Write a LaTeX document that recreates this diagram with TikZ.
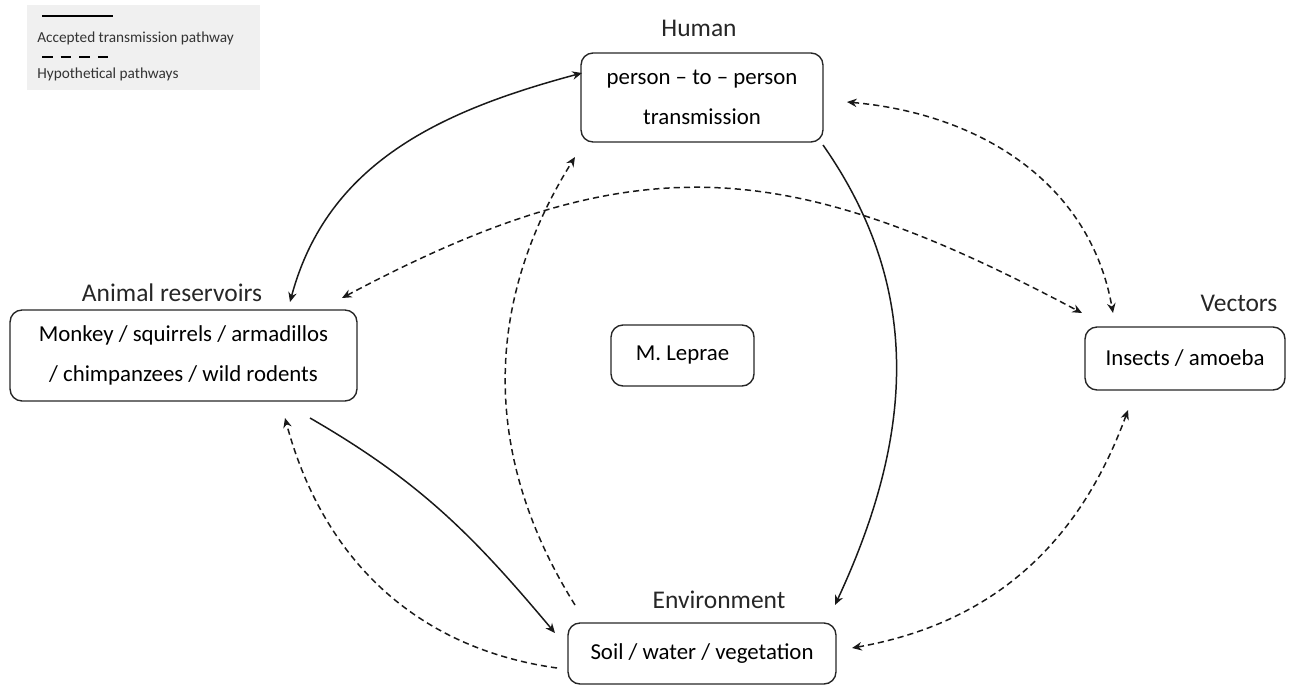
\documentclass[tikz,border=0pt]{standalone}
\usepackage{fontspec}
\setmainfont{Carlito}
\usepackage{tikz}
\usetikzlibrary{positioning, arrows.meta}

\begin{document}
\begin{tikzpicture}[
    x=0.02cm, y=0.02cm,
    >={Stealth[length=5.5pt,width=4.8pt]},
    box/.style={
        draw=black!85,
        line width=0.8pt,
        rounded corners=0.24cm,
        align=center,
        font=\fontsize{13}{23}\selectfont
    },
    title/.style={font=\fontsize{14.5}{17}\selectfont, text=black!85},
    legtext/.style={anchor=west, font=\fontsize{8.7}{10}\selectfont, text=black!80, inner sep=0pt},
    sure/.style={line width=0.85pt, black!90},
    maybe/.style={line width=0.85pt, black!90, dash pattern=on 3.5pt off 2.3pt}
]
\useasboundingbox (0,0) rectangle (1295,684);

% ======================
% Legend
% ======================
\fill[black!6] (27,594) rectangle (260,679);
\coordinate (leg_s1) at (42,668);
\coordinate (leg_s2) at (113,668);
\coordinate (leg_d1) at (42,627);
\coordinate (leg_d2) at (113,627);
\draw[line width=1.2pt] (leg_s1) -- (leg_s2);
\draw[line width=1.2pt, dash pattern=on 6pt off 4.6pt] (leg_d1) -- (leg_d2);
\node[legtext] (leg_acc) at (37,646) {Accepted transmission pathway};
\node[legtext] (leg_hyp) at (37,610) {Hypothetical pathways};

% ======================
% Boxes
% ======================
\node[box, minimum width=4.84cm, minimum height=1.78cm] (hum) at (702,586.5) {person -- to -- person\\transmission};
\node[box, minimum width=6.94cm, minimum height=1.82cm] (anim) at (183.5,328.5) {Monkey / squirrels / armadillos\\/ chimpanzees / wild rodents};
\node[box, minimum width=2.86cm, minimum height=1.22cm] (lep) at (682.5,328.5) {M. Leprae};
\node[box, minimum width=4.0cm, minimum height=1.26cm] (vec) at (1185,325.5) {Insects / amoeba};
\node[box, minimum width=5.36cm, minimum height=1.22cm] (env) at (702,30.5) {Soil / water / vegetation};

% ======================
% Titles
% ======================
\node[title] (hum_title) at (699,656) {Human};
\node[title] (anim_title) at (172,391) {Animal reservoirs};
\node[title] (vec_title) at (1239,381) {Vectors};
\node[title] (env_title) at (719,84) {Environment};

% ======================
% Arrow ends
% ======================
\coordinate (h1) at (582,611);
\coordinate (h2) at (823,539);
\coordinate (h3) at (575,527);
\coordinate (h4) at (847,582);
\coordinate (a1) at (290,382);
\coordinate (a2) at (310,266);
\coordinate (a3) at (285,266);
\coordinate (a4) at (342,386);
\coordinate (e1) at (835,79);
\coordinate (e2) at (555,51);
\coordinate (e3) at (575,79);
\coordinate (e4) at (557,16);
\coordinate (e5) at (852,36);
\coordinate (v1) at (1082,371);
\coordinate (v2) at (1113,371);
\coordinate (v3) at (1128,274);

% accepted pathways
\draw[sure, <->] (a1) to[out=75, in=195] (h1);
\draw[sure, ->] (h2) to[out=-55, in=65] (e1);
\draw[sure, ->] (a2) to[out=-30, in=130] (e2);

% hypothetical pathways
\draw[maybe, ->] (e3) to[out=122, in=-122] (h3);
\draw[maybe, ->] (e4) to[out=172, in=-75] (a3);
\draw[maybe, <->] (a4) to[out=28, in=152, looseness=1.15] (v1);
\draw[maybe, <->] (h4) to[out=-5, in=100] (v2);
\draw[maybe, <->] (e5) to[out=10, in=-110] (v3);

\end{tikzpicture}
\end{document}
